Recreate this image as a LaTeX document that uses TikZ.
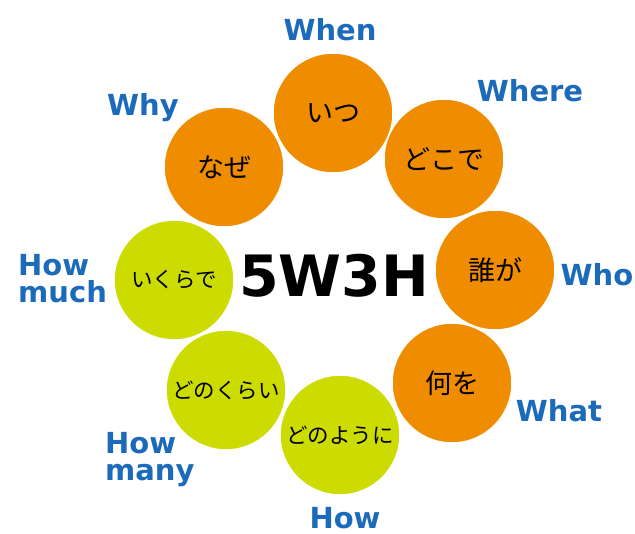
\documentclass[tikz,border=0pt]{standalone}
\usepackage{fontspec}
\setmainfont{DejaVu Sans}
\newfontfamily\jpfont{Noto Sans CJK JP}
\definecolor{kakiorange}{RGB}{240,140,0}
\definecolor{kimidori}{RGB}{205,220,0}
\definecolor{wblue}{RGB}{28,106,186}

\begin{document}
\begin{tikzpicture}[x=1pt,y=-1pt,
  maru/.style={circle,draw=white,line width=1.5pt,minimum size=120pt,inner sep=0pt},
  wmaru/.style={maru,fill=kakiorange,font=\jpfont\fontsize{27}{30}\selectfont},
  hmaru/.style={maru,fill=kimidori,font=\jpfont\fontsize{21.5}{24}\selectfont},
  wlabel/.style={text=wblue,inner sep=0pt,align=left,
    font=\bfseries\fontsize{29}{27}\selectfont}]
  \useasboundingbox (0,0) rectangle (635,534);
  \node[wmaru] (itsu) at (333,113) {いつ};
  \node[wmaru] (dokode) at (444,159) {どこで};
  \node[wmaru] (darega) at (495,270) {誰が};
  \node[wmaru] (naniwo) at (452,383) {何を};
  \node[hmaru] (donoyouni) at (340,435) {どのように};
  \node[hmaru] (donokurai) at (226,390) {どのくらい};
  \node[hmaru] (ikurade) at (174,280) {いくらで};
  \node[wmaru] (naze) at (224,167) {なぜ};
  \node[font=\bfseries\fontsize{57}{60}\selectfont] (title) at (334,276) {5W3H};
  \node[wlabel] (when) at (330,30) {When};
  \node[wlabel] (where) at (530,91) {Where};
  \node[wlabel] (who) at (597,275) {Who};
  \node[wlabel] (what) at (559,411) {What};
  \node[wlabel] (how) at (345,518) {How};
  \node[wlabel,anchor=west] (howmany) at (105,459.5) {How\\many};
  \node[wlabel,anchor=west] (howmuch) at (18,278.5) {How\\much};
  \node[wlabel] (why) at (143,107.5) {Why};
\end{tikzpicture}
\end{document}
